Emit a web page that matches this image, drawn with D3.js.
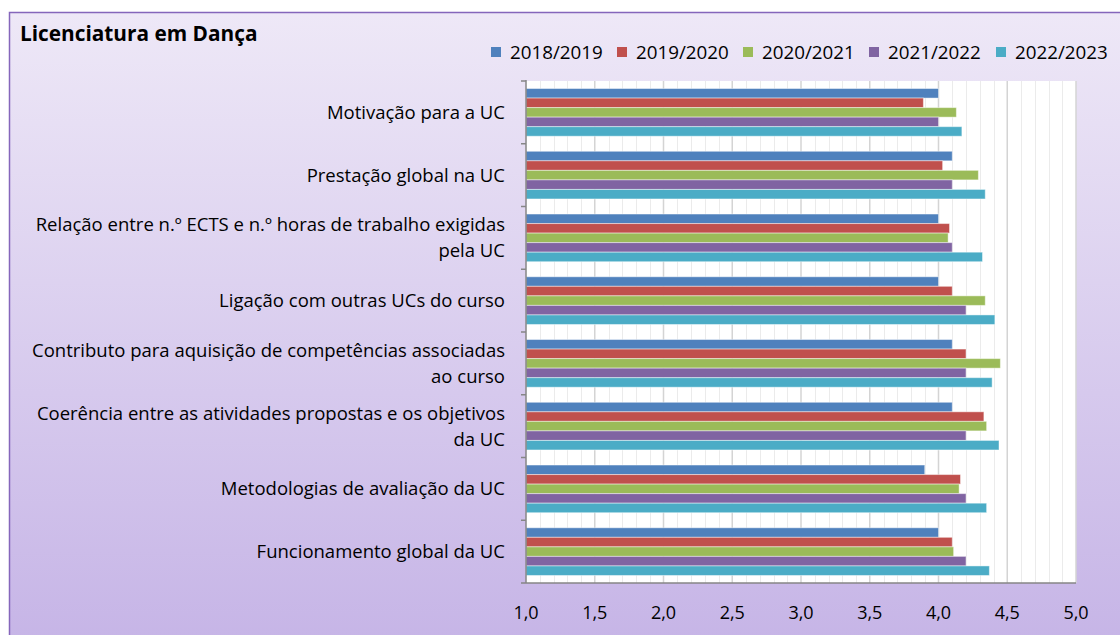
<!DOCTYPE html>
<html>
<head>
<meta charset="utf-8">
<script src="https://cdn.jsdelivr.net/npm/d3@7"></script>
<style>
  body { margin: 0; background: #fff; }
  svg text { font-family: "Open Sans", "Noto Sans", sans-serif; fill: #000; }
</style>
</head>
<body>
<div id="chart"></div>
<script>
const categories = [
    "Motivação para a UC",
    "Prestação global na UC",
    "Relação entre n.º ECTS e n.º horas de trabalho exigidas|pela UC",
    "Ligação com outras UCs do curso",
    "Contributo para aquisição de competências associadas|ao curso",
    "Coerência entre as atividades propostas e os objetivos|da UC",
    "Metodologias de avaliação da UC",
    "Funcionamento global da UC"
];

const years = ["2018/2019", "2019/2020", "2020/2021", "2021/2022", "2022/2023"];
const colors = ["#4f81bd", "#c0504d", "#9bbb59", "#8064a2", "#4bacc6"];

// one array per year, same order as categories
const v2018 = [4.00, 4.10, 4.00, 4.00, 4.10, 4.10, 3.90, 4.00];
const v2019 = [3.89, 4.03, 4.08, 4.10, 4.20, 4.33, 4.16, 4.10];
const v2020 = [4.13, 4.29, 4.07, 4.34, 4.45, 4.35, 4.15, 4.11];
const v2021 = [4.00, 4.10, 4.10, 4.20, 4.20, 4.20, 4.20, 4.20];
const v2022 = [4.17, 4.34, 4.32, 4.41, 4.39, 4.44, 4.35, 4.37];
const series = [v2018, v2019, v2020, v2021, v2022];

const xTicks = [1.0, 1.5, 2.0, 2.5, 3.0, 3.5, 4.0, 4.5, 5.0];

const width = 1120, height = 635;
const plot = { left: 526, right: 1076, top: 81, bottom: 583 };

const svg = d3.select('#chart').append("svg")
    .attr("width", width)
    .attr("height", height);

// background gradient of the chart frame
const defs = svg.append("defs");
const grad = defs.append("linearGradient")
    .attr("id", "bg")
    .attr("x1", 0).attr("y1", 0).attr("x2", 0).attr("y2", 1);
grad.append("stop").attr("offset", "0%").attr("stop-color", "#eee8f7");
grad.append("stop").attr("offset", "100%").attr("stop-color", "#c5b3e6");

svg.append("rect")
    .attr("x", 9.5).attr("y", 12.5)
    .attr("width", 1130).attr("height", 650)
    .attr("fill", "url(#bg)")
    .attr("stroke", "#8566bb")
    .attr("stroke-width", 1.5);

svg.append("text")
    .attr("x", 20).attr("y", 41)
    .style("font-size", "20.8px")
    .style("font-weight", "bold")
    .text("Licenciatura em Dança");

const x = d3.scaleLinear()
    .domain([1, 5])
    .range([plot.left, plot.right]);

const y0 = d3.scaleBand()
    .domain(d3.range(categories.length))
    .range([plot.top, plot.bottom]);

const gap = y0.bandwidth() * 0.24;
const y1 = d3.scaleBand()
    .domain(d3.range(years.length))
    .range([gap / 2, y0.bandwidth() - gap / 2]);

// plot area
svg.append("rect")
    .attr("x", plot.left).attr("y", plot.top)
    .attr("width", plot.right - plot.left)
    .attr("height", plot.bottom - plot.top)
    .attr("fill", "#fff");

// minor gridlines every 0.1
const minor = d3.range(11, 51).map(d => d / 10).filter(d => Math.round(d * 10) % 5 !== 0);
svg.append("g").selectAll("line")
    .data(minor)
    .enter().append("line")
    .attr("x1", d => Math.round(x(d)) + 0.5).attr("x2", d => Math.round(x(d)) + 0.5)
    .attr("y1", plot.top).attr("y2", plot.bottom)
    .attr("stroke", "#ebebeb");

// major gridlines
svg.append("g").selectAll("line")
    .data(xTicks.slice(1))
    .enter().append("line")
    .attr("x1", d => x(d)).attr("x2", d => x(d))
    .attr("y1", plot.top).attr("y2", plot.bottom)
    .attr("stroke", "#d4d4d4")
    .attr("stroke-width", 1.5);

// bars
const groups = svg.append("g").selectAll("g")
    .data(categories)
    .enter().append("g")
    .attr("transform", (d, i) => "translate(0," + y0(i) + ")");

groups.selectAll("rect")
    .data((d, i) => series.map((s, j) => ({ year: j, value: s[i] })))
    .enter().append("rect")
    .attr("x", x(1))
    .attr("y", d => y1(d.year))
    .attr("width", d => x(d.value) - x(1))
    .attr("height", y1.bandwidth())
    .attr("fill", d => colors[d.year])
    .attr("stroke", "rgba(255,255,255,0.45)")
    .attr("stroke-width", 1);

// y axis
const yAxis = svg.append("g");
yAxis.append("line")
    .attr("x1", plot.left).attr("x2", plot.left)
    .attr("y1", plot.top - 1).attr("y2", plot.bottom)
    .attr("stroke", "#868686").attr("stroke-width", 1.5);
yAxis.selectAll(".tick")
    .data(d3.range(categories.length + 1))
    .enter().append("line")
    .attr("x1", plot.left - 5).attr("x2", plot.left)
    .attr("y1", i => i < categories.length ? y0(i) : plot.bottom)
    .attr("y2", i => i < categories.length ? y0(i) : plot.bottom)
    .attr("stroke", "#868686").attr("stroke-width", 1.5);

const labels = svg.append("g").selectAll("text")
    .data(categories)
    .enter().append("text")
    .attr("x", 505)
    .attr("text-anchor", "end")
    .style("font-size", "18.5px")
    .attr("y", (d, i) => y0(i) + y0.bandwidth() / 2);

labels.each(function (d) {
    const lines = d.split("|");
    const t = d3.select(this);
    lines.forEach((l, k) => {
        t.append("tspan")
            .attr("x", 505)
            .attr("dy", k === 0 ? ((lines.length - 1) * -13 + 6.5) + "px" : "26px")
            .text(l);
    });
});

// x axis
svg.append("line")
    .attr("x1", plot.left).attr("x2", plot.right)
    .attr("y1", plot.bottom).attr("y2", plot.bottom)
    .attr("stroke", "#868686").attr("stroke-width", 1.5);

svg.append("g").selectAll("text")
    .data(xTicks)
    .enter().append("text")
    .attr("x", d => x(d))
    .attr("y", 619)
    .attr("text-anchor", "middle")
    .style("font-size", "18px")
    .text(d => d3.format(".1f")(d).replace(".", ","));

// legend
const legendX = [491, 617, 743, 869, 996];
const legend = svg.append("g").selectAll("g")
    .data(years)
    .enter().append("g")
    .attr("transform", (d, i) => "translate(" + legendX[i] + ",47)");
legend.append("rect")
    .attr("width", 10).attr("height", 10)
    .attr("fill", (d, i) => colors[i]);
legend.append("text")
    .attr("x", 19).attr("y", 11.5)
    .style("font-size", "18.8px")
    .text(d => d);
</script>
</body>
</html>
